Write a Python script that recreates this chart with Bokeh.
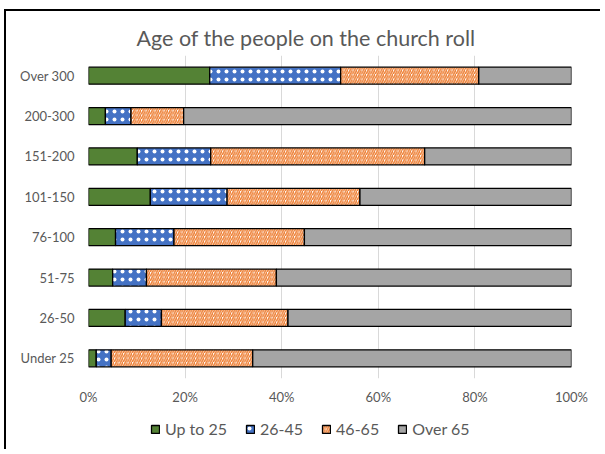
from bokeh.plotting import figure
from bokeh.layouts import column
from bokeh.models import (ColumnDataSource, FactorRange, Range1d, Legend, LegendItem,
                          PrintfTickFormatter, FixedTicker)
from bokeh.embed import file_html
from bokeh.resources import INLINE

title_text = "Age of the people on the church roll"
categories = ["Under 25", "26-50", "51-75", "76-100", "101-150", "151-200", "200-300", "Over 300"]
series = ["Up to 25", "26-45", "46-65", "Over 65"]
up_to_25 = [1.6, 7.6, 5.0, 5.6, 12.8, 10.1, 3.5, 25.1]
age_26_45 = [3.1, 7.5, 7.0, 12.1, 15.9, 15.2, 5.3, 27.1]
age_46_65 = [29.3, 26.2, 26.9, 27.0, 27.5, 44.3, 10.9, 28.6]
over_65 = [66.0, 58.7, 61.1, 55.3, 43.8, 30.4, 80.3, 19.2]
x_ticks = [0, 20, 40, 60, 80, 100]

FONT = "Lato"
TXT = "#595959"

src = ColumnDataSource(dict(cat=categories, s1=up_to_25, s2=age_26_45, s3=age_46_65, s4=over_65))

bar_style = dict(
    fill_color=["#548235", "#4472C4", "white", "#A5A5A5"],
    line_color="black", line_width=1.3,
    hatch_pattern=["blank", "dot", "right_diagonal_line", "blank"],
    hatch_color=["white", "white", "#ED7D31", "white"],
    hatch_scale=[8, 8, 4.5, 8],
    hatch_weight=[1, 0.4, 1.5, 1],
)

p = figure(y_range=FactorRange(factors=categories), x_range=Range1d(0, 100),
           width=596, height=406, output_backend="svg", toolbar_location=None,
           min_border_left=82, min_border_right=31, min_border_top=44, min_border_bottom=39)
p.outline_line_color = None

p.hbar_stack(["s1", "s2", "s3", "s4"], y="cat", height=0.42, source=src, **bar_style)

p.title.text = title_text
p.title.text_font = FONT
p.title.text_font_size = "21.5px"
p.title.text_font_style = "normal"
p.title.text_color = TXT
p.title.align = "left"
p.title.offset = 48
p.title.standoff = 10

p.yaxis.axis_line_color = None
p.yaxis.major_tick_line_color = None
p.yaxis.major_tick_in = 0
p.yaxis.major_tick_out = 0
p.yaxis.major_label_standoff = 14
p.yaxis.major_label_text_font = FONT
p.yaxis.major_label_text_font_size = "13px"
p.yaxis.major_label_text_color = TXT

p.xaxis.ticker = FixedTicker(ticks=x_ticks)
p.xaxis.formatter = PrintfTickFormatter(format="%d%%")
p.xaxis.axis_line_color = None
p.xaxis.major_tick_line_color = None
p.xaxis.minor_tick_line_color = None
p.xaxis.major_tick_in = 0
p.xaxis.major_tick_out = 0
p.xaxis.major_label_standoff = 10
p.xaxis.major_label_text_font = FONT
p.xaxis.major_label_text_font_size = "13px"
p.xaxis.major_label_text_color = TXT

p.ygrid.grid_line_color = None
p.xgrid.ticker = FixedTicker(ticks=x_ticks)
p.xgrid.grid_line_color = "#D9D9D9"
p.xgrid.grid_line_width = 1

# legend strip below the chart: same series styles; its y range holds no category,
# so the bars themselves are not drawn there, only the legend swatches
lg = figure(y_range=FactorRange(factors=["legend"]), x_range=Range1d(0, 100),
            width=596, height=34, output_backend="svg", toolbar_location=None,
            min_border=0, x_axis_type=None, y_axis_type=None)
lg.outline_line_color = None
lg.grid.visible = False
lg_renderers = lg.hbar_stack(["s1", "s2", "s3", "s4"], y="cat", height=0.42,
                             source=src, **bar_style)

legend = Legend(items=[LegendItem(label=s, renderers=[r]) for s, r in zip(series, lg_renderers)],
                orientation="horizontal", location=(62, 13))
legend.glyph_width = 10
legend.glyph_height = 10
legend.label_height = 16
legend.label_text_font = FONT
legend.label_text_font_size = "16px"
legend.label_text_color = TXT
legend.label_standoff = 5
legend.spacing = 18
legend.padding = 0
legend.margin = 0
legend.border_line_color = None
legend.background_fill_alpha = 0
lg.add_layout(legend, "center")

layout = column(p, lg, spacing=0, margin=(11, 0, 0, 6))
layout.styles = {"box-shadow": "-2px -2px 0 0 #000000"}
open("out.html", "w").write(file_html(layout, INLINE))
